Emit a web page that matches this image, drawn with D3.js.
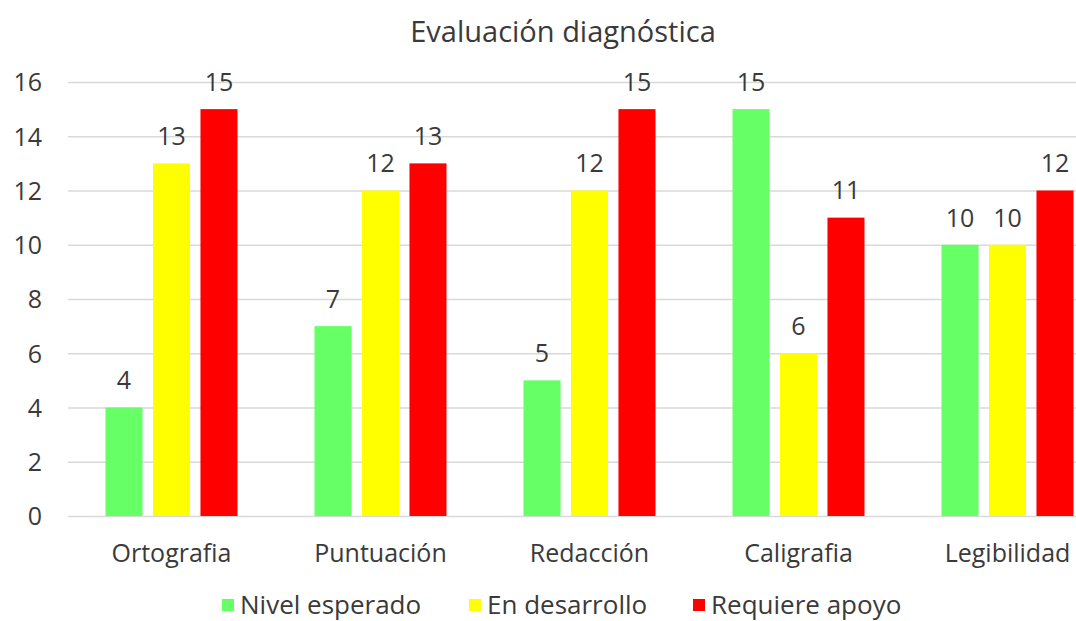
<!DOCTYPE html>
<html>
<head>
<meta charset="utf-8">
<script src="https://cdn.jsdelivr.net/npm/d3@7"></script>
<style>
  body { margin: 0; background: #fff; }
  text { font-family: "Open Sans", sans-serif; fill: #3a3a3a; }
</style>
</head>
<body>
<div id="chart"></div>
<script>
// data
var categories = ["Ortografia", "Puntuación", "Redacción", "Caligrafia", "Legibilidad"];
var seriesNames = ["Nivel esperado", "En desarrollo", "Requiere apoyo"];
var nivelEsperado = [4, 7, 5, 15, 10];
var enDesarrollo = [13, 12, 12, 6, 10];
var requiereApoyo = [15, 13, 15, 11, 12];
var yTicks = [0, 2, 4, 6, 8, 10, 12, 14, 16];
var colors = ["#66ff66", "#ffff00", "#ff0000"];

var width = 1076, height = 621;
var margin = {top: 82, left: 68, bottom: 105};

var svg = d3.select("#chart")
  .append("svg")
  .attr("width", width)
  .attr("height", height);

// the plot runs past the right edge in the original (it was cropped)
var xScale = d3.scaleBand()
  .domain(categories)
  .range([margin.left - 1, 1112]);

var yScale = d3.scaleLinear()
  .domain([0, 16])
  .range([516, margin.top]);

var xSub = d3.scaleBand()
  .domain(seriesNames)
  .range([xScale.bandwidth() / 2 - 66, xScale.bandwidth() / 2 + 66])
  .paddingInner(0.22);

// gridlines
svg.append("g")
  .selectAll("line")
  .data(yTicks)
  .join("line")
  .attr("x1", margin.left)
  .attr("x2", width)
  .attr("y1", d => yScale(d) + 0.5)
  .attr("y2", d => yScale(d) + 0.5)
  .attr("stroke", "#d9d9d9")
  .attr("stroke-width", 1.5);

// y axis labels
var yAxis = svg.append("g")
  .attr("transform", "translate(42,0)")
  .call(d3.axisLeft(yScale).tickValues(yTicks).tickSize(0).tickPadding(0));
yAxis.select(".domain").remove();
yAxis.selectAll("text")
  .style("font-size", "25px")
  .style("font-family", "'Open Sans', sans-serif")
  .attr("fill", "#3a3a3a")
  .attr("dy", "0.35em");

// x axis labels
var xAxis = svg.append("g")
  .attr("transform", "translate(0,553)")
  .call(d3.axisBottom(xScale).tickSize(0).tickPadding(0));
xAxis.select(".domain").remove();
xAxis.selectAll("text")
  .style("font-size", "25px")
  .style("font-family", "'Open Sans', sans-serif")
  .attr("fill", "#3a3a3a")
  .attr("dy", "0.35em");

var rows = categories.map((c, i) => ({
  cat: c,
  vals: [nivelEsperado[i], enDesarrollo[i], requiereApoyo[i]]
}));

var groups = svg.append("g")
  .selectAll("g")
  .data(rows)
  .join("g")
  .attr("transform", d => `translate(${xScale(d.cat)},0)`);

groups.selectAll("rect")
  .data(d => d.vals.map((v, j) => ({key: seriesNames[j], v: v, j: j})))
  .join("rect")
  .attr("x", d => xSub(d.key))
  .attr("y", d => yScale(d.v))
  .attr("width", xSub.bandwidth())
  .attr("height", d => yScale(0) - yScale(d.v))
  .attr("fill", d => colors[d.j]);

groups.selectAll("text.val")
  .data(d => d.vals.map((v, j) => ({key: seriesNames[j], v: v})))
  .join("text")
  .attr("class", "val")
  .attr("x", d => xSub(d.key) + xSub.bandwidth() / 2)
  .attr("y", d => yScale(d.v) - 27)
  .attr("dy", "0.35em")
  .attr("text-anchor", "middle")
  .style("font-size", "25px")
  .text(d => d.v);

// title
svg.append("text")
  .attr("x", 563)
  .attr("y", 32)
  .attr("dy", "0.35em")
  .attr("text-anchor", "middle")
  .style("font-size", "29px")
  .text("Evaluación diagnóstica");

// legend
var legendX = [222, 469, 693];
var legend = svg.append("g")
  .selectAll("g")
  .data(seriesNames)
  .join("g")
  .attr("transform", (d, i) => `translate(${legendX[i]},605)`);

legend.append("rect")
  .attr("x", 0)
  .attr("y", -6)
  .attr("width", 12)
  .attr("height", 12)
  .attr("fill", (d, i) => colors[i]);

legend.append("text")
  .attr("x", 18)
  .attr("y", 0)
  .attr("dy", "0.35em")
  .style("font-size", "26px")
  .text(d => d);
</script>
</body>
</html>
